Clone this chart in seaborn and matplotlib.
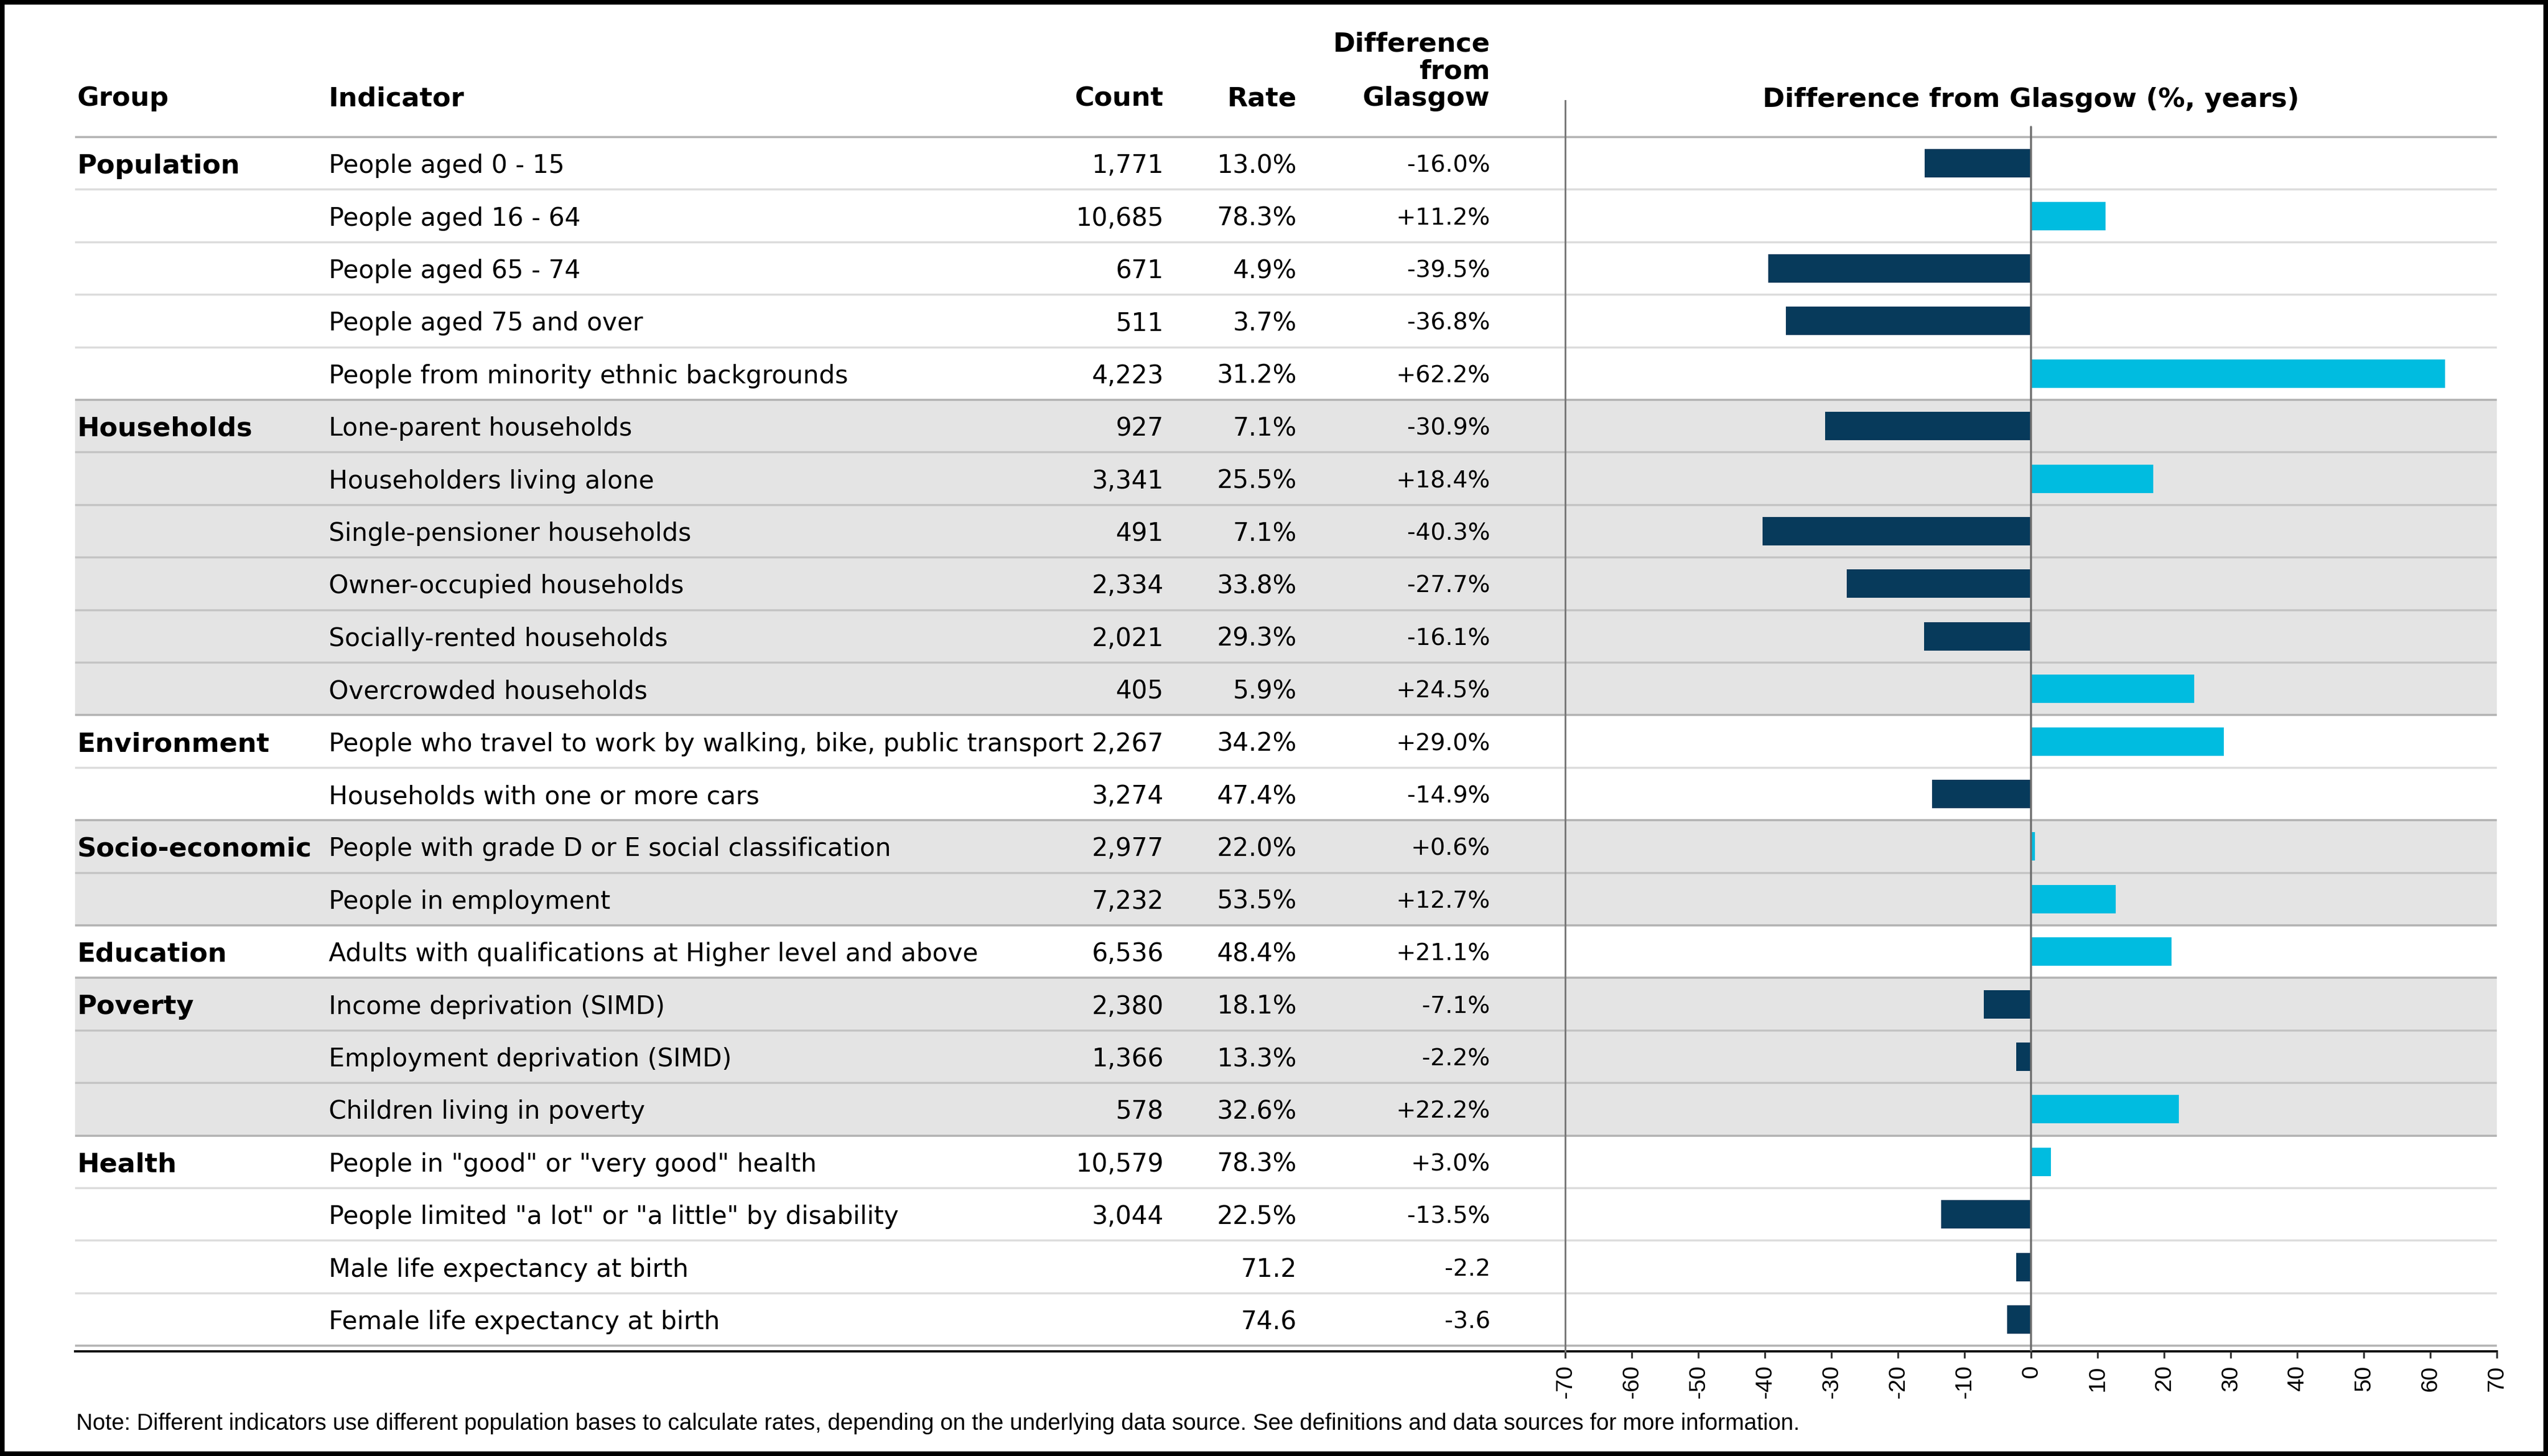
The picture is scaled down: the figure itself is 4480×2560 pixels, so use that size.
import matplotlib
matplotlib.use("Agg")
import matplotlib.pyplot as plt
import seaborn as sns
import pandas as pd
from matplotlib.patches import Rectangle

# ---------------- data ----------------
group_names = ["Population", "Households", "Environment", "Socio-economic",
               "Education", "Poverty", "Health"]
group_sizes = [5, 6, 2, 2, 1, 3, 4]
shaded_groups = ["Households", "Socio-economic", "Poverty"]

indicators = [
    "People aged 0 - 15",
    "People aged 16 - 64",
    "People aged 65 - 74",
    "People aged 75 and over",
    "People from minority ethnic backgrounds",
    "Lone-parent households",
    "Householders living alone",
    "Single-pensioner households",
    "Owner-occupied households",
    "Socially-rented households",
    "Overcrowded households",
    "People who travel to work by walking, bike, public transport",
    "Households with one or more cars",
    "People with grade D or E social classification",
    "People in employment",
    "Adults with qualifications at Higher level and above",
    "Income deprivation (SIMD)",
    "Employment deprivation (SIMD)",
    "Children living in poverty",
    "People in \"good\" or \"very good\" health",
    "People limited \"a lot\" or \"a little\" by disability",
    "Male life expectancy at birth",
    "Female life expectancy at birth",
]
counts = [1771, 10685, 671, 511, 4223, 927, 3341, 491, 2334, 2021, 405,
          2267, 3274, 2977, 7232, 6536, 2380, 1366, 578, 10579, 3044, None, None]
rates = [13.0, 78.3, 4.9, 3.7, 31.2, 7.1, 25.5, 7.1, 33.8, 29.3, 5.9,
         34.2, 47.4, 22.0, 53.5, 48.4, 18.1, 13.3, 32.6, 78.3, 22.5, 71.2, 74.6]
diffs = [-16.0, 11.2, -39.5, -36.8, 62.2, -30.9, 18.4, -40.3, -27.7, -16.1, 24.5,
         29.0, -14.9, 0.6, 12.7, 21.1, -7.1, -2.2, 22.2, 3.0, -13.5, -2.2, -3.6]
units = ["%"] * 21 + ["", ""]

headers = ["Group", "Indicator", "Count", "Rate", "Difference\nfrom\nGlasgow"]
chart_title = "Difference from Glasgow (%, years)"
x_ticks = list(range(-70, 71, 10))
note = ("Note: Different indicators use different population bases to calculate rates, "
        "depending on the underlying data source. See definitions and data sources for more information.")

# ---------------- styling ----------------
W, H = 4480, 2560
DPI = 280
POS_C = "#00BCE0"
NEG_C = "#073A5B"
SHADE = "#E4E4E4"
THICK = "#B3B3B3"
FS = 11.4
FSB = 12.1

row_groups = []
for g, n in zip(group_names, group_sizes):
    row_groups += [g] * n
nrows = len(indicators)

df = pd.DataFrame({
    "indicator": indicators,
    "group": row_groups,
    "diff": diffs,
    "sign": ["pos" if d >= 0 else "neg" for d in diffs],
})

sns.set_style("white")
plt.rcParams["font.family"] = ["DejaVu Sans"]
plt.rcParams["text.color"] = "black"
plt.rcParams["xtick.labelcolor"] = "black"
plt.rcParams["axes.unicode_minus"] = False

fig = plt.figure(figsize=(W / DPI, H / DPI), dpi=DPI)

# pixel layout
top_px, bot_px = 177, 2376
head_px, row_h = 241, 92.4
tab_l, tab_r = 132, 4390
ax_l = 2752

def py(px):
    return -0.5 + (px - head_px) / row_h

ylim = (py(bot_px), py(top_px))
fb = (H - bot_px) / H
fh = (bot_px - top_px) / H

axt = fig.add_axes([0, fb, 1, fh])
axt.set_xlim(0, W)
axt.set_ylim(*ylim)
axt.set_xticks([]); axt.set_yticks([])
for s in ["top", "left", "right"]:
    axt.spines[s].set_visible(False)
axt.spines["bottom"].set_bounds(tab_l, tab_r)
axt.spines["bottom"].set_color("black")
axt.spines["bottom"].set_linewidth(1.0)
axt.patch.set_alpha(0)

# shading and lines
start = 0
bounds = [0]
for g, n in zip(group_names, group_sizes):
    if g in shaded_groups:
        axt.axhspan(start - 0.5, start + n - 0.5, xmin=tab_l / W, xmax=tab_r / W,
                    color=SHADE, lw=0, zorder=0)
    start += n
    bounds.append(start)
for k in range(nrows + 1):
    if k in bounds:
        axt.hlines(k - 0.5, tab_l, tab_r, color=THICK, lw=0.95, zorder=1)
    else:
        axt.hlines(k - 0.5, tab_l, tab_r, color="black", alpha=0.14, lw=0.9, zorder=1)

# headers
hy = py(186)
col_x = [136, 578, 2046, 2280, 2620]
col_ha = ["left", "left", "right", "right", "right"]
for t, x, ha in zip(headers, col_x, col_ha):
    axt.text(x, hy, t, ha=ha, va="baseline", fontsize=FSB, fontweight="bold",
             linespacing=1.08)

# table body
shown = set()
for i in range(nrows):
    g = row_groups[i]
    if g not in shown:
        axt.text(col_x[0], i, g, ha="left", va="center_baseline", fontsize=FSB,
                 fontweight="bold")
        shown.add(g)
    axt.text(col_x[1], i, indicators[i], ha="left", va="center_baseline", fontsize=FS)
    if counts[i] is not None:
        axt.text(col_x[2], i, f"{counts[i]:,}", ha="right", va="center_baseline", fontsize=FS)
    axt.text(col_x[3], i, f"{rates[i]:.1f}{units[i]}", ha="right", va="center_baseline", fontsize=FS)
    axt.text(col_x[4], i, f"{diffs[i]:+.1f}{units[i]}", ha="right", va="center_baseline",
             fontsize=FS * 0.93)

# bar chart
ax = fig.add_axes([ax_l / W, fb, (tab_r - ax_l) / W, fh])
ax.patch.set_alpha(0)
sns.barplot(data=df, x="diff", y="indicator", hue="sign",
            palette={"pos": POS_C, "neg": NEG_C}, orient="h", dodge=False,
            width=0.54, legend=False, saturation=1, ax=ax, zorder=3,
            linewidth=0, edgecolor="none")
ax.set_ylim(*ylim)
ax.set_xlim(-70, 70)
ax.set_yticks([])
ax.set_ylabel("")
ax.set_xlabel("")
ax.set_xticks(x_ticks)
ax.tick_params(axis="x", labelrotation=90, labelsize=10.5, length=3, width=0.85,
               color="#333333", pad=3.2, bottom=True, labelcolor="black")
for lab in ax.get_xticklabels():
    lab.set_fontfamily("Liberation Sans")
for s in ["top", "right", "bottom"]:
    ax.spines[s].set_visible(False)
ax.spines["left"].set_color("#777777")
ax.spines["left"].set_linewidth(0.8)
ax.axvline(0, ymin=0, ymax=(bot_px - 223) / (bot_px - top_px), color="#6E6E6E",
           lw=0.9, zorder=4)
ax.set_title(chart_title, y=(bot_px - 188) / (bot_px - top_px), pad=0,
             va="baseline", fontsize=FSB, fontweight="bold", color="black")

fig.text(134 / W, 1 - 2503 / H, note, ha="left", va="center", fontsize=10.3,
         family="Liberation Sans")

fig.add_artist(Rectangle((0, 0), 1, 1, transform=fig.transFigure, fill=False,
                         edgecolor="black", lw=4.2, clip_on=False))

fig.savefig("out.png", dpi=DPI, facecolor="white")
